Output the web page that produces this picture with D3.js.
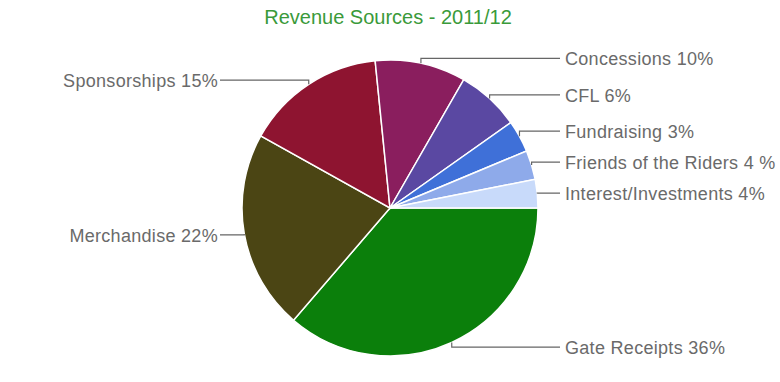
<!DOCTYPE html>
<html>
<head>
<meta charset="utf-8">
<script src="https://cdn.jsdelivr.net/npm/d3@7"></script>
<style>
  body { margin: 0; background: #fff; }
  svg { display: block; font-family: "Liberation Sans", Arial, Helvetica, sans-serif; }
</style>
</head>
<body>
<div id="chart"></div>
<script>
const title = 'Revenue Sources - 2011/12';
const categories = ['Gate Receipts', 'Merchandise', 'Sponsorships', 'Concessions', 'CFL', 'Fundraising', 'Friends of the Riders', 'Interest/Investments'];
const percentLabels = ['36%', '22%', '15%', '10%', '6%', '3%', '4 %', '4%'];
const values = [36.3, 21.8, 15.3, 9.9, 6.9, 3.5, 3.2, 3.1];
const colors = ['#0b7f0b', '#4b4514', '#8e1430', '#8a1e5e', '#5a48a2', '#3f70d8', '#8eaaea', '#c8dafa'];

const width = 780;
const height = 382;
const cx = 390, cy = 208, radius = 148;

const svg = d3.select('#chart')
  .append('svg')
  .attr('width', width)
  .attr('height', height);

svg.append('text')
  .attr('x', 388)
  .attr('y', 24)
  .attr('text-anchor', 'middle')
  .style('font-size', '20px')
  .style('fill', '#3a9a3a')
  .text(title);

const data = categories.map((c, i) => ({ name: c, pct: percentLabels[i], value: values[i], color: colors[i] }));

// start at 3 o'clock, go clockwise
const pie = d3.pie()
  .sort(null)
  .value(d => d.value)
  .startAngle(Math.PI / 2)
  .endAngle(Math.PI / 2 + 2 * Math.PI);

const arcs = pie(data);
const arc = d3.arc().innerRadius(0).outerRadius(radius);

const g = svg.append('g').attr('transform', `translate(${cx},${cy})`);

g.selectAll('path')
  .data(arcs)
  .enter()
  .append('path')
  .attr('d', arc)
  .attr('fill', d => d.data.color)
  .attr('stroke', '#fff')
  .attr('stroke-width', 1.5);

// anchor points on the rim, label height taken a bit outside the rim
const labelR = radius + 5;
arcs.forEach(d => {
  const a = (d.startAngle + d.endAngle) / 2;
  d.ax = Math.sin(a) * radius;
  d.ay = -Math.cos(a) * radius;
  d.right = d.ax > 0;
  d.ly = -Math.cos(a) * labelR;
});

// push labels apart on each side
const gap = 31;
const rightSide = arcs.filter(d => d.right).sort((a, b) => b.ly - a.ly);
for (let i = 1; i < rightSide.length; i++) {
  rightSide[i].ly = Math.min(rightSide[i].ly, rightSide[i - 1].ly - gap);
}
const leftSide = arcs.filter(d => !d.right).sort((a, b) => a.ly - b.ly);
for (let i = 1; i < leftSide.length; i++) {
  leftSide[i].ly = Math.max(leftSide[i].ly, leftSide[i - 1].ly + gap);
}

const lineEndR = radius + 22;
const textR = radius + 27;

g.selectAll('polyline')
  .data(arcs)
  .enter()
  .append('polyline')
  .attr('points', d => {
    const endX = d.right ? lineEndR : -lineEndR;
    return [[d.ax, d.ay], [d.ax, d.ly], [endX, d.ly]].map(p => p.join(',')).join(' ');
  })
  .attr('fill', 'none')
  .attr('stroke', '#666')
  .attr('stroke-width', 1.2);

g.selectAll('text.label')
  .data(arcs)
  .enter()
  .append('text')
  .attr('class', 'label')
  .attr('x', d => d.right ? textR : -(radius + 24))
  .attr('y', d => d.ly)
  .attr('dy', '0.38em')
  .attr('text-anchor', d => d.right ? 'start' : 'end')
  .style('font-size', '18px')
  .style('letter-spacing', '0.3px')
  .style('fill', '#6a6a6a')
  .text(d => `${d.data.name} ${d.data.pct}`);
</script>
</body>
</html>
